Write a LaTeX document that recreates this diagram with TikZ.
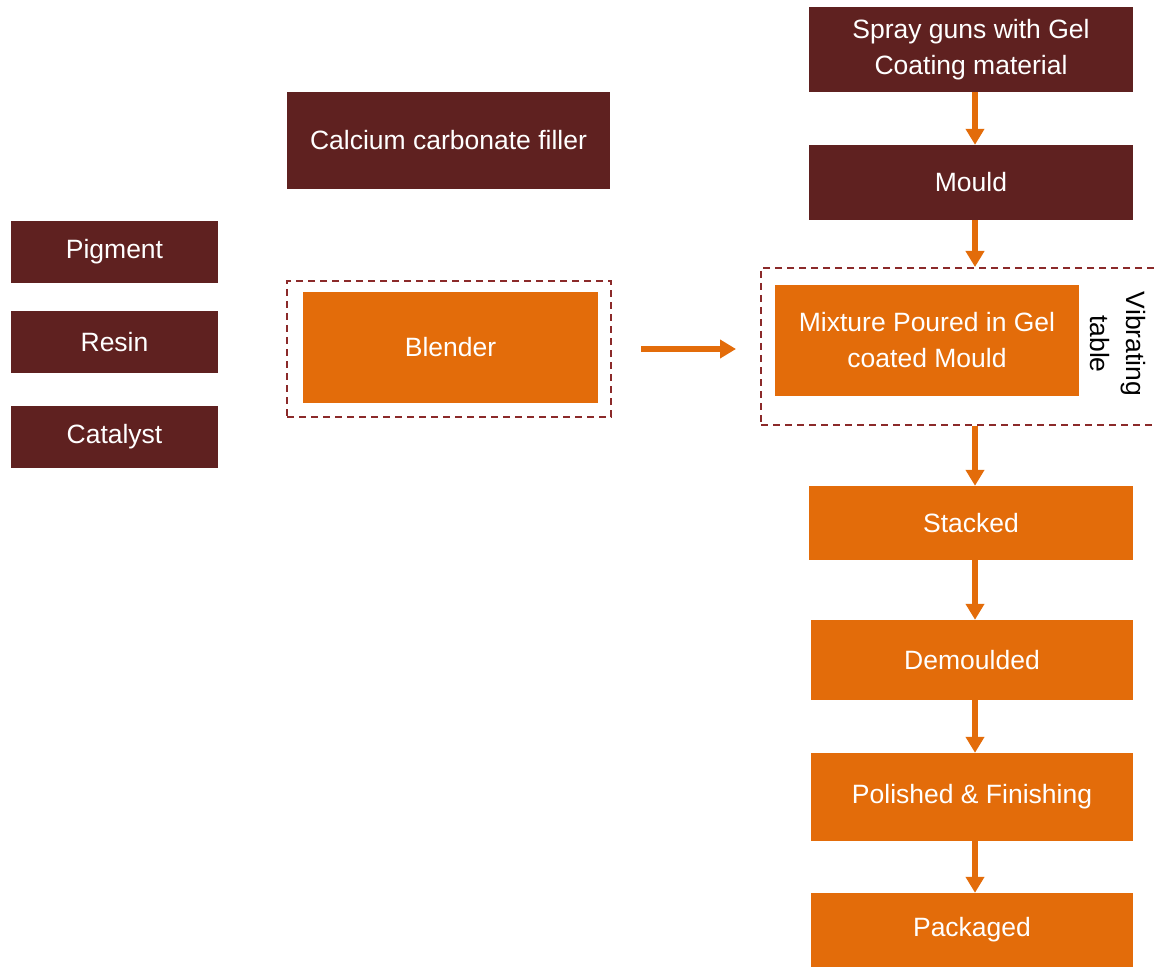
\documentclass[tikz,border=0pt]{standalone}
\usepackage{fontspec}
\setmainfont{Liberation Sans}
\usetikzlibrary{arrows.meta,positioning,fit}
\definecolor{maroon}{HTML}{5F2120}
\definecolor{flow}{HTML}{E36C0A}
\definecolor{frame}{HTML}{8B2A2A}

\begin{document}
\begin{tikzpicture}[
  x=1pt, y=-1pt,
  every node/.style={font=\fontsize{26.5}{36}\selectfont},
  box/.style={rectangle, inner sep=0pt, align=center, text=white},
  input/.style={box, fill=maroon},
  stage/.style={box, fill=flow},
  frm/.style={draw=frame, line width=2pt, dash pattern=on 7pt off 5pt},
  arr/.style={-{Triangle[width=18pt,length=16pt]}, line width=5.5pt, flow},
]
\useasboundingbox (0,0) rectangle (1154,968);

% raw materials
\node[input, minimum width=323pt, minimum height=97pt] (filler) at (448.5,140.5) {Calcium carbonate filler};
\node[input, minimum width=207pt, minimum height=62pt] (pigment) at (114.5,252) {Pigment};
\node[input, minimum width=207pt, minimum height=62pt] (resin) at (114.5,342) {Resin};
\node[input, minimum width=207pt, minimum height=62pt] (catalyst) at (114.5,437) {Catalyst};

% blending
\node[stage, minimum width=295pt, minimum height=111pt] (blender) at (450.5,347.5) {Blender};
\node[frm, minimum width=324pt, minimum height=136pt] (blendframe) at (449,349) {};

% moulding line
\node[input, minimum width=324pt, minimum height=85pt] (spray) at (971,49.5) {Spray guns with Gel\\Coating material};
\node[input, minimum width=324pt, minimum height=75pt] (mould) at (971,182.5) {Mould};
\node[stage, minimum width=304pt, minimum height=111pt] (mix) at (927,340.5) {Mixture Poured in Gel\\coated Mould};
\node[rotate=-90, align=center, inner sep=0pt] (vib) at (1118,344) {Vibrating\\table};
\node[frm, minimum width=400pt, minimum height=157pt] (mixframe) at (961,346.5) {};

\node[stage, minimum width=324pt, minimum height=74pt] (stacked) at (971,523) {Stacked};
\node[stage, minimum width=322pt, minimum height=80pt] (demould) at (972,660) {Demoulded};
\node[stage, minimum width=322pt, minimum height=88pt] (polish) at (972,797) {Polished \& Finishing};
\node[stage, minimum width=322pt, minimum height=74pt] (pack) at (972,930) {Packaged};

\draw[arr, shorten <=29pt, shorten >=24pt] (blendframe.east) -- (mixframe.west |- blendframe.east);
\draw[arr] ([xshift=4pt]spray.south) -- ([xshift=4pt]mould.north);
\draw[arr] ([xshift=4pt]mould.south) -- ([xshift=4pt]mould.south |- mixframe.north);
\draw[arr] ([xshift=4pt]stacked.north |- mixframe.south) -- ([xshift=4pt]stacked.north);
\draw[arr] ([xshift=4pt]stacked.south) -- ([xshift=3pt]demould.north);
\draw[arr] ([xshift=3pt]demould.south) -- ([xshift=3pt]polish.north);
\draw[arr] ([xshift=3pt]polish.south) -- ([xshift=3pt]pack.north);

\end{tikzpicture}
\end{document}
